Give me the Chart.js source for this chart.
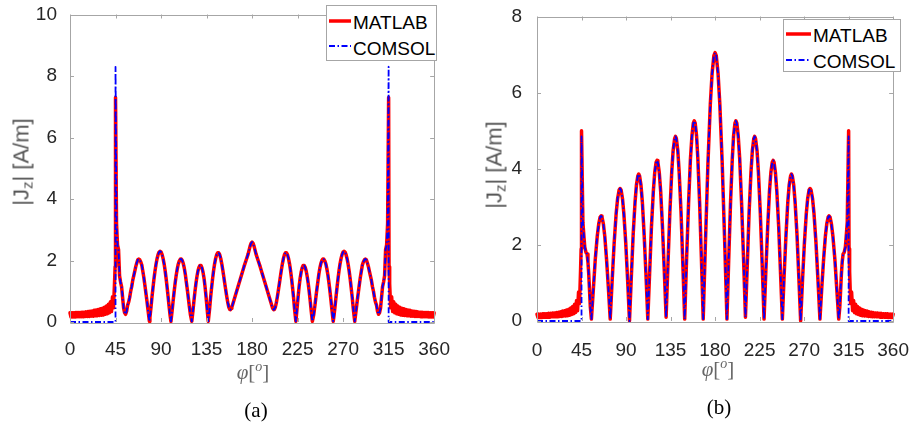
<!DOCTYPE html>
<html>
<head>
<meta charset="utf-8">
<script src="https://cdn.jsdelivr.net/npm/chart.js@4.4.1/dist/chart.umd.min.js"></script>
<style>
  html,body{margin:0;padding:0;background:#fff;}
  body{width:921px;height:426px;position:relative;overflow:hidden;font-family:"Liberation Sans",Arial,Helvetica,sans-serif;}
  canvas{position:absolute;top:0;}
  .c{position:absolute;transform:translate(-50%,-50%);white-space:nowrap;}
  .ytitle{position:absolute;transform:translate(-50%,-50%) rotate(-90deg);white-space:nowrap;color:#555;font-size:22px;}
  .ytitle sub{font-size:15px;vertical-align:-4px;}
  .xtitle{color:#666;font-size:21px;font-family:"Liberation Serif","Times New Roman",serif;}
  .xtitle sup{font-size:14px;vertical-align:8px;}
  .cap{color:#000;font-size:21px;font-family:"Liberation Serif","Times New Roman",serif;}
  .legend{position:absolute;box-sizing:border-box;border:1px solid #a6a6a6;background:#fff;}
  .legend span{position:absolute;font-size:19px;line-height:19px;color:#000;white-space:nowrap;}
  .legend svg{position:absolute;overflow:visible;}
</style>
</head>
<body>
<canvas id="chartA" style="left:0px;width:460px;height:360px" width="460" height="360"></canvas>
<canvas id="chartB" style="left:460px;width:461px;height:360px" width="461" height="360"></canvas>

<div class="ytitle" style="left:22px;top:162px">|J<sub>z</sub>| [A/m]</div>
<div class="ytitle" style="left:495px;top:165px">|J<sub>z</sub>| [A/m]</div>
<div class="c xtitle" style="left:253px;top:372px"><i>φ</i>[<sup><i>o</i></sup>]</div>
<div class="c xtitle" style="left:718px;top:369px"><i>φ</i>[<sup><i>o</i></sup>]</div>
<div class="c cap" style="left:256px;top:410px">(a)</div>
<div class="c cap" style="left:719px;top:407px">(b)</div>

<div class="legend" style="left:326px;top:5px;width:111px;height:56px">
  <svg style="left:2px;top:15px" width="22" height="1"><line x1="0" y1="0" x2="22" y2="0" stroke="#ff0000" stroke-width="3.5"/></svg>
  <span id="legA1" style="left:26px;top:7px">MATLAB</span>
  <svg style="left:2px;top:40px" width="22" height="1"><line x1="0" y1="0" x2="22" y2="0" stroke="#0000ff" stroke-width="1.8" stroke-dasharray="6,2.5,1.5,2.5"/></svg>
  <span id="legA2" style="left:26px;top:33px">COMSOL</span>
</div>
<div class="legend" style="left:783px;top:19px;width:118px;height:53px">
  <svg style="left:2px;top:14px" width="25" height="1"><line x1="0" y1="0" x2="25" y2="0" stroke="#ff0000" stroke-width="3.5"/></svg>
  <span id="legB1" style="left:29px;top:6px">MATLAB</span>
  <svg style="left:2px;top:40px" width="25" height="1"><line x1="0" y1="0" x2="25" y2="0" stroke="#0000ff" stroke-width="1.8" stroke-dasharray="6,2.5,1.5,2.5"/></svg>
  <span id="legB2" style="left:29px;top:32px">COMSOL</span>
</div>

<script>
// ---------------- DATA ----------------
const seriesNames = ['MATLAB', 'COMSOL'];
const phiTicks = [0, 45, 90, 135, 180, 225, 270, 315, 360];
const jzTicksA = [0, 2, 4, 6, 8, 10];
const jzTicksB = [0, 2, 4, 6, 8];

// Chart (a): MATLAB left tail (noisy band) + spike  [phi, |Jz|]
const aMatlabLeft = [
 [0,0.3],[1,0.16],[2,0.3],[3,0.16],[4,0.3],[5,0.16],[6,0.31],[7,0.17],[8,0.31],[9,0.17],
 [10,0.31],[11,0.17],[12,0.32],[13,0.17],[14,0.32],[15,0.18],[16,0.33],[17,0.18],[18,0.34],[19,0.18],
 [20,0.35],[21,0.19],[22,0.36],[23,0.19],[24,0.38],[25,0.2],[26,0.39],[27,0.2],[28,0.41],[29,0.21],
 [30,0.43],[31,0.22],[32,0.45],[33,0.23],[34,0.48],[35,0.25],[36,0.52],[37,0.27],[38,0.58],[39,0.3],
 [40,0.66],[41,0.34],[42,0.82],[43,0.46],[44,1.25],[44.6,1.8],[45,7.3]
];
// Chart (a): common part of both solutions
const aCore = [
 [46,3.2],[47,2.5],[48,2.35],[49,1.5],[50,1.3],[51,1.15],[52,0.8],[53,0.45],[54,0.3],[55,0.25],
 [56,0.35],[57,0.55],[58,0.65],[59,0.8],[60,1.0],[61,1.15],[62,1.35],[63,1.5],[64,1.65],[65,1.8],
 [66,1.92],[67,2.02],[68,2.05],[69,2.02],[70,1.95],[71,1.85],[72,1.65],[73,1.45],[74,1.2],[75,0.95],
 [76,0.7],[77,0.42],[78,0.15],[78.5,0.02],[79,0.15],[80,0.45],[81,0.8],[82,1.1],[83,1.4],[84,1.65],
 [85,1.87],[86,2.05],[87,2.18],[88,2.27],[89,2.3],[90,2.28],[91,2.2],[92,2.07],[93,1.9],[94,1.68],
 [95,1.42],[96,1.13],[97,0.82],[98,0.5],[99,0.2],[99.8,0.02],[101,0.38],[102,0.7],[103,1.0],[104,1.28],
 [105,1.52],[106,1.72],[107,1.88],[108,1.98],[109,2.04],[110,2.05],[111,2.0],[112,1.9],[113,1.75],[114,1.55],
 [115,1.3],[116,1.05],[117,0.78],[118,0.5],[119,0.25],[120.4,0.02],[121.5,0.35],[122.5,0.68],[123.5,0.98],[124.5,1.25],
 [125.5,1.48],[126.5,1.66],[127.5,1.78],[128.5,1.84],[129.5,1.84],[130.5,1.76],[131.5,1.62],[132.5,1.42],[133.5,1.15],[134.5,0.82],
 [135.5,0.45],[136.7,0.02],[138,0.42],[139,0.8],[140,1.12],[141,1.42],[142,1.68],[143,1.9],[144,2.07],[145,2.19],
 [146,2.25],[147,2.25],[148,2.19],[149,2.07],[150,1.9],[151,1.7],[152,1.48],[153,1.25],[154,1.03],[155,0.82],
 [156,0.63],[157,0.48],[158,0.41],[158.6,0.4],[159.5,0.44],[160,0.48],[162,0.7],[164,0.92],[166,1.14],[168,1.36],
 [170,1.58],[172,1.8],[174,2.0],[176,2.2],[177,2.33],[178,2.46],[179,2.56],[180,2.6],
 [181,2.56],[182,2.46],[183,2.33],[184,2.2],[186,2.0],[188,1.8],[190,1.58],[192,1.36],[194,1.14],[196,0.92],
 [198,0.7],[200,0.48],[200.5,0.44],[201.4,0.4],[202,0.41],[203,0.48],[204,0.63],[205,0.82],[206,1.03],[207,1.25],
 [208,1.48],[209,1.7],[210,1.9],[211,2.07],[212,2.19],[213,2.25],[214,2.25],[215,2.19],[216,2.07],[217,1.9],
 [218,1.68],[219,1.42],[220,1.12],[221,0.8],[222,0.42],[223.3,0.02],[224.5,0.45],[225.5,0.82],[226.5,1.15],[227.5,1.42],
 [228.5,1.62],[229.5,1.76],[230.5,1.84],[231.5,1.84],[232.5,1.78],[233.5,1.66],[234.5,1.48],[235.5,1.25],[236.5,0.98],[237.5,0.68],
 [238.5,0.35],[239.6,0.02],[241,0.25],[242,0.5],[243,0.78],[244,1.05],[245,1.3],[246,1.55],[247,1.75],[248,1.9],
 [249,2.0],[250,2.05],[251,2.04],[252,1.98],[253,1.88],[254,1.72],[255,1.52],[256,1.28],[257,1.0],[258,0.7],
 [259,0.38],[260.2,0.02],[261,0.2],[262,0.5],[263,0.82],[264,1.13],[265,1.42],[266,1.68],[267,1.9],[268,2.07],
 [269,2.2],[270,2.28],[271,2.3],[272,2.27],[273,2.18],[274,2.05],[275,1.87],[276,1.65],[277,1.4],[278,1.1],
 [279,0.8],[280,0.45],[281,0.15],[281.5,0.02],[282,0.15],[283,0.42],[284,0.7],[285,0.95],[286,1.2],[287,1.45],
 [288,1.65],[289,1.85],[290,1.95],[291,2.02],[292,2.05],[293,2.02],[294,1.92],[295,1.8],[296,1.65],[297,1.5],
 [298,1.35],[299,1.15],[300,1.0],[301,0.8],[302,0.65],[303,0.55],[304,0.35],[305,0.25],[306,0.3],[307,0.45],
 [308,0.8],[309,1.15],[310,1.3],[311,1.5],[312,2.35],[313,2.5],[314,3.2]
];
// Chart (a): MATLAB spike + right tail
const aMatlabRight = [
 [315,7.3],[315.4,1.8],[316,1.25],[317,0.46],[318,0.82],[319,0.34],[320,0.66],[321,0.3],[322,0.58],[323,0.27],
 [324,0.52],[325,0.25],[326,0.48],[327,0.23],[328,0.45],[329,0.22],[330,0.43],[331,0.21],[332,0.41],[333,0.2],
 [334,0.39],[335,0.2],[336,0.38],[337,0.19],[338,0.36],[339,0.19],[340,0.35],[341,0.18],[342,0.34],[343,0.18],
 [344,0.33],[345,0.18],[346,0.32],[347,0.17],[348,0.32],[349,0.17],[350,0.31],[351,0.17],[352,0.31],[353,0.17],
 [354,0.31],[355,0.16],[356,0.3],[357,0.16],[358,0.3],[359,0.16],[360,0.3]
];
// Chart (a): COMSOL edges
const aComsolLeft = [[0,0],[45,0],[45,8.3]];
const aComsolRight = [[315,8.3],[315,0],[360,0]];

// Chart (b): MATLAB left tail + spike
const bMatlabLeft = [
 [0,0.18],[1,0.09],[2,0.18],[3,0.09],[4,0.18],[5,0.09],[6,0.19],[7,0.1],[8,0.19],[9,0.1],
 [10,0.19],[11,0.1],[12,0.2],[13,0.1],[14,0.2],[15,0.11],[16,0.21],[17,0.11],[18,0.21],[19,0.11],
 [20,0.22],[21,0.11],[22,0.23],[23,0.12],[24,0.24],[25,0.12],[26,0.26],[27,0.13],[28,0.27],[29,0.13],
 [30,0.29],[31,0.14],[32,0.31],[33,0.15],[34,0.34],[35,0.17],[36,0.38],[37,0.19],[38,0.44],[39,0.22],
 [40,0.54],[41,0.27],[42,0.76],[43,0.46],[44,1.3],[44.6,1.9],[45,5.0]
];
// Chart (b): common part
const bCore = [
 [46.4,2.59],[47.5,2.2],[48.3,1.94],[49.5,1.8],[50.6,1.76],[51.5,1.55],[52.3,1.24],[53.2,0.75],[53.9,0.37],[55,0.05],
 [57,0.85],[58.9,1.62],[60.9,2.23],[62.4,2.55],[63.8,2.73],[64.8,2.76],[65.7,2.73],[67.1,2.55],[68.5,2.23],[70.3,1.62],[72.2,0.85],[74,0.05],
 [76,1.08],[78,2.05],[80,2.82],[81.5,3.22],[83,3.44],[84,3.48],[85,3.44],[86.4,3.22],[87.8,2.82],[89.7,2.05],[91.6,1.08],[93.5,0],
 [95.4,1.19],[97.2,2.27],[99.1,3.12],[100.5,3.57],[101.9,3.81],[102.8,3.86],[103.7,3.81],[105.1,3.57],[106.5,3.12],[108.3,2.27],[110.2,1.19],[112,0.05],
 [113.9,1.3],[115.7,2.48],[117.6,3.41],[119,3.9],[120.4,4.17],[121.3,4.22],[122.2,4.17],[123.6,3.9],[125,3.41],[126.8,2.48],[128.7,1.3],[130.5,0.1],
 [132.4,1.5],[134.3,2.85],[136.2,3.92],[137.6,4.48],[139.1,4.79],[140,4.85],[140.9,4.79],[142.3,4.48],[143.7,3.92],[145.6,2.85],[147.4,1.5],[149.3,0.05],
 [151.2,1.63],[153.2,3.09],[155.1,4.26],[156.6,4.86],[158,5.2],[159,5.26],[159.9,5.2],[161.3,4.86],[162.6,4.26],[164.4,3.09],[166.2,1.63],[168,0.05],
 [170.4,2.18],[172.8,4.15],[175.2,5.7],[177,6.51],[178.8,6.97],[180,7.05],[181.2,6.97],[183,6.51],[184.8,5.7],[187.2,4.15],[189.6,2.18],[192,0.05],
 [193.8,1.63],[195.6,3.09],[197.4,4.26],[198.7,4.86],[200.1,5.2],[201,5.26],[202,5.2],[203.4,4.86],[204.9,4.26],[206.8,3.09],[208.8,1.63],[210.7,0.1],
 [212.6,1.5],[214.4,2.85],[216.3,3.92],[217.7,4.48],[219.1,4.79],[220,4.85],[220.9,4.79],[222.4,4.48],[223.8,3.92],[225.7,2.85],[227.6,1.5],[229.5,0.05],
 [231.3,1.3],[233.2,2.48],[235,3.41],[236.4,3.9],[237.8,4.17],[238.7,4.22],[239.6,4.17],[241,3.9],[242.4,3.41],[244.3,2.48],[246.1,1.3],[248,0.05],
 [249.8,1.19],[251.7,2.27],[253.5,3.12],[254.9,3.57],[256.3,3.81],[257.2,3.86],[258.1,3.81],[259.5,3.57],[260.9,3.12],[262.8,2.27],[264.6,1.19],[266.5,0],
 [268.4,1.08],[270.3,2.05],[272.2,2.82],[273.6,3.22],[275,3.44],[276,3.48],[277,3.44],[278.5,3.22],[280,2.82],[282,2.05],[284,1.08],[286,0.05],
 [287.8,0.85],[289.7,1.62],[291.5,2.23],[292.9,2.55],[294.3,2.73],[295.2,2.76],[296.2,2.73],[297.6,2.55],[299.1,2.23],[301.1,1.62],[303,0.85],[305,0.05],
 [306.1,0.37],[306.8,0.75],[307.7,1.24],[308.5,1.55],[309.4,1.76],[310.5,1.8],[311.7,1.94],[312.5,2.2],[313.6,2.59]
];
// Chart (b): MATLAB spike + right tail
const bMatlabRight = [
 [315,5.0],[315.4,1.9],[316,1.3],[317,0.46],[318,0.76],[319,0.27],[320,0.54],[321,0.22],[322,0.44],[323,0.19],
 [324,0.38],[325,0.17],[326,0.34],[327,0.15],[328,0.31],[329,0.14],[330,0.29],[331,0.13],[332,0.27],[333,0.13],
 [334,0.26],[335,0.12],[336,0.24],[337,0.12],[338,0.23],[339,0.11],[340,0.22],[341,0.11],[342,0.21],[343,0.11],
 [344,0.21],[345,0.11],[346,0.2],[347,0.1],[348,0.2],[349,0.1],[350,0.19],[351,0.1],[352,0.19],[353,0.1],
 [354,0.19],[355,0.09],[356,0.18],[357,0.09],[358,0.18],[359,0.09],[360,0.18]
];
// Chart (b): COMSOL edges
const bComsolLeft = [[0,0],[45,0],[45,4.85]];
const bComsolRight = [[315,4.85],[315,0],[360,0]];

// ---------------- RENDER ----------------
Chart.defaults.font.family = '"Liberation Sans", Arial, Helvetica, sans-serif';
Chart.defaults.color = '#262626';

const toXY = arr => arr.map(p => ({x: p[0], y: p[1]}));

const matlabFrame = {
  id: 'matlabFrame',
  afterDatasetsDraw(chart) {
    const {ctx, chartArea: {left, right, top, bottom}, scales: {x, y}} = chart;
    ctx.save();
    ctx.strokeStyle = '#a6a6a6';
    ctx.lineWidth = 1;
    ctx.beginPath();
    ctx.rect(Math.round(left) + 0.5, Math.round(top) + 0.5, Math.round(right - left), Math.round(bottom - top));
    const L = 4;
    x.ticks.forEach(t => {
      const px = Math.round(x.getPixelForValue(t.value)) + 0.5;
      ctx.moveTo(px, bottom); ctx.lineTo(px, bottom - L);
      ctx.moveTo(px, top); ctx.lineTo(px, top + L);
    });
    y.ticks.forEach(t => {
      const py = Math.round(y.getPixelForValue(t.value)) + 0.5;
      ctx.moveTo(left, py); ctx.lineTo(left + L, py);
      ctx.moveTo(right, py); ctx.lineTo(right - L, py);
    });
    ctx.stroke();
    ctx.restore();
  }
};

function makeChart(id, opt) {
  return new Chart(document.getElementById(id), {
    type: 'line',
    data: {
      datasets: [
        {
          label: seriesNames[0],
          data: toXY(opt.matlab),
          borderColor: '#ff0000',
          borderWidth: 3.5,
          borderJoinStyle: 'round',
          borderCapStyle: 'round',
          pointRadius: 0,
          tension: 0,
          order: 2,
          clip: 4
        },
        {
          label: seriesNames[1],
          data: toXY(opt.comsol),
          borderColor: '#0000ff',
          borderWidth: 1.8,
          borderJoinStyle: 'round',
          borderDash: [6, 2.5, 1.5, 2.5],
          pointRadius: 0,
          tension: 0,
          order: 1,
          clip: 4
        }
      ]
    },
    options: {
      responsive: false,
      animation: false,
      devicePixelRatio: 1,
      layout: {padding: opt.padding},
      plugins: {legend: {display: false}, tooltip: {enabled: false}},
      scales: {
        x: {
          type: 'linear', min: 0, max: 360,
          grid: {display: false},
          border: {display: false},
          afterBuildTicks: s => { s.ticks = phiTicks.map(v => ({value: v})); },
          afterFit: s => { s.height = opt.xHeight; },
          ticks: {autoSkip: false, maxRotation: 0, padding: opt.xPad, color: '#262626',
                  font: {size: 19, lineHeight: 1}}
        },
        y: {
          type: 'linear', min: 0, max: opt.yMax,
          grid: {display: false},
          border: {display: false},
          afterBuildTicks: s => { s.ticks = opt.yTicks.map(v => ({value: v})); },
          afterFit: s => { s.width = opt.yWidth; },
          ticks: {autoSkip: false, padding: opt.yPad, color: '#262626',
                  font: {size: 19, lineHeight: 1}}
        }
      }
    },
    plugins: [matlabFrame]
  });
}

makeChart('chartA', {
  matlab: [...aMatlabLeft, ...aCore, ...aMatlabRight],
  comsol: [...aComsolLeft, ...aCore, ...aComsolRight],
  yMax: 10, yTicks: jzTicksA,
  padding: {left: 0, top: 10, right: 23, bottom: 0},
  yWidth: 70, xHeight: 38, xPad: 10, yPad: 5
});
makeChart('chartB', {
  matlab: [...bMatlabLeft, ...bCore, ...bMatlabRight],
  comsol: [...bComsolLeft, ...bCore, ...bComsolRight],
  yMax: 8, yTicks: jzTicksB,
  padding: {left: 0, top: 14, right: 19, bottom: 0},
  yWidth: 77, xHeight: 39, xPad: 12, yPad: 7
});
</script>
</body>
</html>
